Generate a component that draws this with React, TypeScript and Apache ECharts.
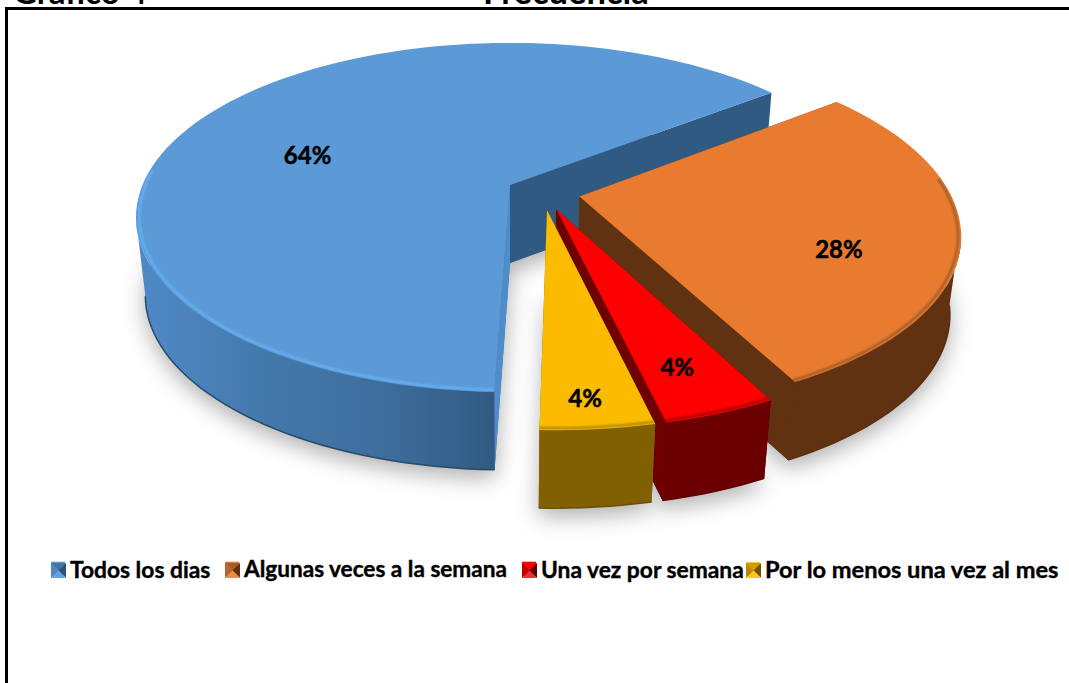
import React, { useEffect, useRef } from "react";
import * as echarts from "echarts";

// Survey answers and their shares of the total, in percent.
const categories = ["Todos los dias", "Algunas veces a la semana", "Una vez por semana", "Por lo menos una vez al mes"];
const percentages = [64, 28, 4, 4];

// Colours for each slice.
const topColors = ["#5B9AD6", "#E97B31", "#FF0000", "#FBBC00"];
const wallColors = ["#3F6F9F", "#613212", "#6B0000", "#806000"];
const cutColors = ["#315A82", "#613212", "#6E0000", "#806000"];
const rimColors = ["#66AEF2", "#A9602A", "#B40000", "#BE9000"];
const edgeColors = ["#2A4A6A", "#5A2E10", "#600000", "#6A5000"];

// Bevelled legend swatch shades: top, right, bottom, left.
const swatchShades = [
  ["#44759F", "#2C5478", "#62A2DE", "#4F87BE"],
  ["#A95B25", "#5E3112", "#F28A3F", "#B8662C"],
  ["#FF0000", "#5A0000", "#E83030", "#C00000"],
  ["#D09C00", "#6E5200", "#FFC81A", "#B88A00"],
];

// Legend and label placement.
const legendLefts = [51, 225, 522, 746];
const legendFontSizes = [22.8, 22.6, 22.8, 23.6];
const labelRadii = [0.6, 0.71, 0.8, 0.88];
const labelAngleShifts = [-9, 11, 0.9, 0.8];

// Projection of the tilted disc on the page.
const CX = 510;
const CY = 185;
const RX = 367.5;
const RY = 168.5;
const PERSPECTIVE = 0.186;
const DEPTH = 78;
const BOTTOM_SHRINK = 0.975;
const EXPLODE = 0.1;
const START_ANGLE = 182;
// The rim wall is seen between these bearings; beyond them the top face hides it.
const WALL_FROM = 100;
const WALL_TO = 259;
const RIM_OVERRUN = 16;

const total = percentages.reduce((a, b) => a + b, 0);
const startAngles = percentages.map((_, i) =>
  START_ANGLE + percentages.slice(0, i).reduce((a, b) => a + b, 0) / total * 360
);

const rad = (deg: number) => (deg * Math.PI) / 180;

function project(u: number, v: number, level: number): number[] {
  const d = 1 + PERSPECTIVE * v;
  let x = (RX * u) / d;
  let y = (-RY * v) / d;
  if (level === 1) {
    x *= BOTTOM_SHRINK;
    y += DEPTH;
  }
  return [CX + x, CY + y];
}

// The first slice's tip sits at the projection origin; the hub is the point all slices explode from.
const firstMid = rad(START_ANGLE + (percentages[0] / total) * 180);
const hubU = -EXPLODE * Math.sin(firstMid);
const hubV = -EXPLODE * Math.cos(firstMid);

function renderSlice(params: any, api: any) {
  const i = params.seriesIndex;
  const span = (api.value(0) / total) * 360;
  const a0 = startAngles[i] % 360;
  const a1 = a0 + span;
  const mid = rad(a0 + span / 2);
  const tipU = hubU + EXPLODE * Math.sin(mid);
  const tipV = hubV + EXPLODE * Math.cos(mid);

  const arc = (from: number, to: number, level: number, r = 1) => {
    const steps = Math.max(2, Math.ceil(Math.abs(to - from) / 2));
    const pts: number[][] = [];
    for (let s = 0; s <= steps; s++) {
      const t = rad(from + ((to - from) * s) / steps);
      pts.push(project(tipU + r * Math.sin(t), tipV + r * Math.cos(t), level));
    }
    return pts;
  };

  const tipTop = project(tipU, tipV, 0);
  const tipBottom = project(tipU, tipV, 1);
  const cutFace = (angle: number) => {
    const t = rad(angle);
    const u = tipU + Math.sin(t);
    const v = tipV + Math.cos(t);
    return [tipTop, project(u, v, 0), project(u, v, 1), tipBottom];
  };

  const wallStart = Math.max(a0, WALL_FROM);
  const wallEnd = Math.min(a1, WALL_TO);
  const wallTop = arc(wallStart, wallEnd, 0);
  const wallBottom = arc(wallStart, wallEnd, 1);
  const wallFill =
    i === 0
      ? {
          type: "linear", x: 1, y: 0, x2: 0, y2: 0,
          colorStops: [
            { offset: 0, color: "#315A82" },
            { offset: 0.3, color: "#3E6D9B" },
            { offset: 0.65, color: "#4479AC" },
            { offset: 1, color: "#4F8AC6" },
          ],
        }
      : wallColors[i];
  const children: any[] = [];

  // Soft ground shadow under the slice.
  children.push({
    type: "polygon",
    shape: { points: [tipBottom, ...arc(a0, a1, 1)] },
    style: {
      fill: wallColors[i],
      shadowBlur: 22,
      shadowColor: "rgba(0,0,0,0.32)",
      shadowOffsetX: 0,
      shadowOffsetY: 8,
    },
  });
  children.push({
    type: "polygon",
    shape: { points: cutFace(a1) },
    style: { fill: cutColors[i] },
  });
  children.push({
    type: "polygon",
    shape: { points: cutFace(a0) },
    style: { fill: i === 0 ? "#4E8CCA" : cutColors[i] },
  });
  // Near-side wall.
  children.push({
    type: "polygon",
    shape: { points: [...wallTop, ...wallBottom.slice().reverse()] },
    style: { fill: wallFill },
  });
  children.push({
    type: "polyline",
    shape: { points: wallBottom },
    style: { fill: "none", stroke: edgeColors[i], lineWidth: 1.5 },
  });
  // Top face.
  children.push({
    type: "polygon",
    shape: { points: [tipTop, ...arc(a0, a1, 0)] },
    style: { fill: topColors[i] },
  });
  // Bevel along the rim.
  const rim = arc(
    Math.max(a0, WALL_FROM - RIM_OVERRUN),
    Math.min(a1, WALL_TO + RIM_OVERRUN),
    0,
    0.992
  );
  children.push({
    type: "polyline",
    shape: { points: rim },
    style: { fill: "none", stroke: rimColors[i], lineWidth: 5, opacity: 0.3 },
  });
  children.push({
    type: "polyline",
    shape: { points: rim },
    style: { fill: "none", stroke: rimColors[i], lineWidth: 2.4, opacity: 0.75 },
  });
  // Percentage label.
  const la = rad(a0 + span / 2 + labelAngleShifts[i]);
  const lr = labelRadii[i];
  const [lx, ly] = project(tipU + lr * Math.sin(la), tipV + lr * Math.cos(la), 0);
  children.push({
    type: "text",
    style: {
      text: `${api.value(0)}%`,
      x: lx,
      y: ly,
      align: "center",
      verticalAlign: "middle",
      fill: "#000",
      stroke: "#000",
      lineWidth: 0.5,
      fontFamily: "Lato",
      fontWeight: "bold",
      fontSize: 24,
    },
  });
  return { type: "group", children };
}

function swatch(i: number) {
  const x = legendLefts[i];
  const y = 563;
  const s = 15;
  const c: number[] = [x + s / 2, y + s / 2];
  const corners = [[x, y], [x + s, y], [x + s, y + s], [x, y + s]];
  return swatchShades[i].map((fill, k) => ({
    type: "polygon",
    z: 20,
    silent: true,
    shape: { points: [corners[k], corners[(k + 1) % 4], c] },
    style: { fill },
  }));
}

export default function App() {
  const ref = useRef<HTMLDivElement>(null);
  useEffect(() => {
    const chart = echarts.init(ref.current!, undefined, { renderer: "svg" });
    chart.setOption({
      animation: false,
      backgroundColor: "#fff",
      legend: categories.map((name, i) => ({
        data: [name],
        left: legendLefts[i],
        top: 557,
        padding: 0,
        icon: "rect",
        itemWidth: 14,
        itemHeight: 14,
        selectedMode: false,
        textStyle: {
          fontFamily: "Lato",
          fontWeight: "bold",
          fontSize: legendFontSizes[i],
          color: "#000",
          textBorderColor: "#000",
          textBorderWidth: 0.4,
        },
      })),
      graphic: [
        {
          type: "rect",
          z: 15,
          silent: true,
          shape: { x: 6.5, y: 8.5, width: 1100, height: 700 },
          style: { fill: "none", stroke: "#000", lineWidth: 3 },
        },
        {
          type: "text",
          z: 15,
          silent: true,
          style: { text: "Gráfico 4", x: 13, y: -26, fontFamily: "Lato", fontWeight: "bold", fontSize: 33, fill: "#000" },
        },
        {
          type: "text",
          z: 15,
          silent: true,
          style: { text: "Frecuencia", x: 483, y: -27, fontFamily: "Lato", fontWeight: "bold", fontSize: 34.5, fill: "#000" },
        },
        ...categories.flatMap((_, i) => swatch(i)),
      ],
      series: categories.map((name, i) => ({
        type: "custom",
        name,
        coordinateSystem: "none",
        silent: true,
        itemStyle: { color: topColors[i] },
        renderItem: renderSlice,
        data: [{ name, value: percentages[i] }],
      })),
    });
    return () => chart.dispose();
  }, []);
  return (
    <div
      ref={ref}
      style={{ position: "fixed", left: 0, top: 0, width: 1069, height: 683 }}
    />
  );
}
